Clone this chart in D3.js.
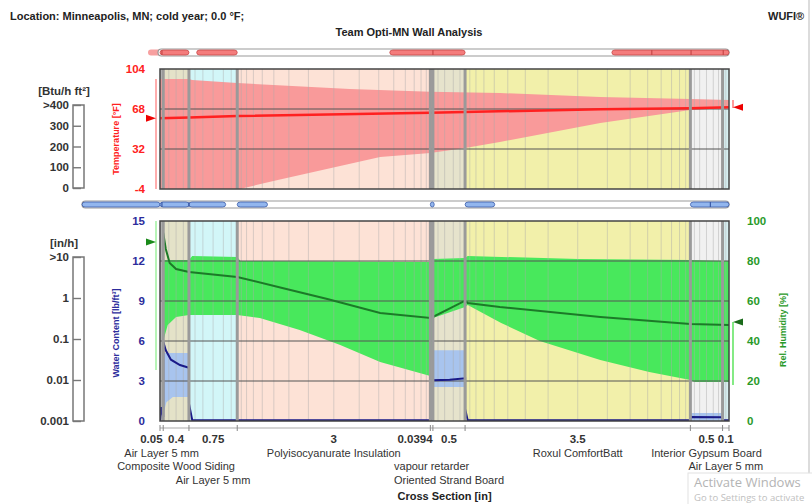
<!DOCTYPE html>
<html>
<head>
<meta charset="utf-8">
<script src="https://cdn.jsdelivr.net/npm/d3@7/dist/d3.min.js"></script>
<style>
	body{margin:0;background:#fff;}
	svg{font-family:"Liberation Sans",Arial,sans-serif;}
	.hdr{font-size:11px;font-weight:bold;fill:#222;}
	.tick-b{font-size:11.5px;font-weight:bold;}
	.lname{font-size:11px;fill:#333;}
	.unit{font-size:9px;font-weight:bold;}
</style>
</head>
<body>
<div id="chart"></div>
<script>

//layers of the wall, outside -> inside
const layerNames = ["Air Layer 5 mm","Composite Wood Siding","Air Layer 5 mm","Polyisocyanurate Insulation","vapour retarder","Oriented Strand Board","Roxul ComfortBatt","Interior Gypsum Board","Air Layer 5 mm"];
const layerThick = [0.05,0.4,0.75,3,0.0394,0.5,3.5,0.5,0.1];
const layerCells = [1,4,6,16,1,5,16,6,2];

//temperature [°F] : [position in, value]
const tempHi = [[0,95],[0.45,95],[0.5,94],[1.2,91.4],[2.95,86],[4.2,83.6],[5.28,82.4],[6.84,78.8],[8.24,77],[8.84,76]];
const tempLo = [[0,-12],[0.45,-10],[1.2,-4.5],[1.83,4.1],[3.42,24.8],[4.2,28.4],[4.74,32.9],[5.28,38.3],[6.84,55.4],[8.24,67.1],[8.84,69]];
const tempNow = [[0,59.6],[0.45,60.3],[1.2,61.7],[4.2,64.7],[6.84,67.7],[8.24,68.6],[8.84,69.5]];

//relative humidity [%]
const rhHi = [[0.05,80.5],[0.45,80.5],[0.5,82.5],[1.2,82],[1.25,80],[4.2,79.5],[4.24,81],[4.74,81.5],[4.78,82.5],[6.5,81],[8.24,80.5],[8.84,80]];
const rhLo = [[0.05,40],[0.12,48],[0.25,52],[0.45,53],[1.2,53],[1.55,51.5],[2.17,45.5],[2.8,38],[3.42,29.5],[4.2,22.5],[4.24,51.5],[4.74,57],[4.78,58],[5.3,49],[5.9,40],[6.84,30.5],[7.6,24.5],[8.24,20.5],[8.3,19.5],[8.84,19.5]];
const rhNow = [[0.05,94],[0.09,86],[0.15,79],[0.25,76],[0.45,74.5],[1.2,72],[1.9,66.5],[2.6,61],[3.42,54],[4.2,51.5],[4.22,55.5],[4.24,52],[4.74,60.2],[4.78,59],[5.28,57],[6.84,52],[8.24,48.5],[8.84,48]];

//water content [lb/ft3]
const wcNow = [[0,0],[0.02,1.05],[0.05,0.3],[0.05,5.95],[0.09,5.3],[0.17,4.6],[0.31,4.2],[0.45,4.0],[0.45,1.3],[0.5,0.08],[1.2,0.06],[4.2,0.05],[4.24,0.05],[4.24,3.05],[4.5,3.1],[4.74,3.2],[4.74,0.9],[4.78,0.06],[8.24,0.06],[8.24,0.3],[8.74,0.28],[8.74,0.05],[8.84,0.05]];
const wcHiSegs = [[[0.05,5.1],[0.45,5.1]],[[4.24,5.3],[4.74,5.3]],[[8.24,0.6],[8.74,0.6]]];
const wcLoSegs = [[[0.05,0.5],[0.1,1.4],[0.2,1.8],[0.45,1.8]],[[4.24,2.55],[4.74,2.55]],[[8.24,0],[8.74,0]]];

//surface indicators [min, max, current]
const rhSurfExt = [25.5,100,89.5];
const rhSurfInt = [18,49.5,49.5];

//flux bars (segments in inches)
const heatBar = [[0,0.45],[0.57,1.2],[3.57,4.74],[7.02,8.84]];
const heatBarMarks = [0.03,4.24,7.64,8.25,8.75];
const moistBar = [[-1.21,0],[0,0.45],[0.45,1.02],[1.2,1.67],[4.2,4.26],[4.74,5.2],[8.24,8.84]];
const moistBarMarks = [0.03,0.45,8.55];

//axis ticks
const tempTicks = [-4,32,68,104];
const wcTicks = [0,3,6,9,12,15];
const rhTicks = [0,20,40,60,80,100];
const fluxTicks = [0,100,200,300,400];
const fluxTickLabels = ["0","100","200","300",">400"];
const rainTicks = [0.001,0.01,0.1,1,10];
const rainTickLabels = ["0.001","0.01","0.1","1",">10"];


//styles
const layerFill = d3.scaleOrdinal().domain(d3.range(9))
	.range(["#b8b8b8","#e4e2c8","#d2f6f8","#fde2d6","#b0b0b0","#e6e3cc","#f2f0aa","#f1f1f1","#d6eef0"]);
const red = "#ff2020", navy = "#2c2c9c", green = "#2a9a2a";

//sizing
const plot = {left:160, right:729};
const topP = {top:69, bottom:189};
const botP = {top:221, bottom:421};

const svg = d3.select("#chart").append("svg")
	.attr("width",812)
	.attr("height",504);

const total = d3.sum(layerThick);
const ends = Array.from(d3.cumsum(layerThick));
const starts = [0].concat(ends.slice(0,-1));

const x = d3.scaleLinear().domain([0,total]).range([plot.left,plot.right]);
const yT = d3.scaleLinear().domain([-4,104]).range([topP.bottom,topP.top]);
const yW = d3.scaleLinear().domain([0,15]).range([botP.bottom,botP.top]);
const yRH = d3.scaleLinear().domain([0,100]).range([botP.bottom,botP.top]);

//header
svg.append("text").attr("class","hdr").attr("x",10).attr("y",20).text("Location: Minneapolis, MN; cold year; 0.0 °F;");
svg.append("text").attr("class","hdr").attr("x",409).attr("y",36).attr("text-anchor","middle").text("Team Opti-MN Wall Analysis");
svg.append("text").attr("class","hdr").attr("x",768).attr("y",20).text("WUFI®");
svg.append("line").attr("x1",809).attr("x2",809).attr("y1",0).attr("y2",474).attr("stroke","#dcdcdc").attr("stroke-width",2);

//clip paths
const defs = svg.append("defs");
[["clipTop",topP],["clipBot",botP]].forEach(([id,p])=>{
	defs.append("clipPath").attr("id",id).append("rect")
		.attr("x",plot.left).attr("y",p.top)
		.attr("width",plot.right-plot.left).attr("height",p.bottom-p.top);
});

//numeric grid of a layer
function cellEdges(i){
	const n = layerCells[i], r = 1.3;
	const sizes = d3.range(n).map(k=>Math.pow(r,Math.min(k,n-1-k)));
	const s = d3.sum(sizes);
	let acc = starts[i];
	const out = [];
	for(let k=0;k<n-1;k++){
		acc += sizes[k]/s*layerThick[i];
		out.push(acc);
	}
	return out;
}
const subLines = d3.range(layerThick.length).flatMap(cellEdges);

function panelBack(p, clip){
	const g = svg.append("g").attr("clip-path","url(#"+clip+")");
	g.selectAll("rect").data(layerThick).enter().append("rect")
		.attr("x",(d,i)=>x(starts[i]))
		.attr("width",(d,i)=>x(ends[i])-x(starts[i]))
		.attr("y",p.top).attr("height",p.bottom-p.top)
		.attr("fill",(d,i)=>layerFill(i));
	return g;
}
function panelFront(p, clip, ticks, yScale){
	const g = svg.append("g").attr("clip-path","url(#"+clip+")");
	g.selectAll(".sub").data(subLines).enter().append("line")
		.attr("x1",d=>x(d)).attr("x2",d=>x(d))
		.attr("y1",p.top).attr("y2",p.bottom)
		.attr("stroke","#aaa").attr("stroke-opacity",0.45);
	g.selectAll(".hg").data(ticks.slice(1,-1)).enter().append("line")
		.attr("x1",plot.left).attr("x2",plot.right)
		.attr("y1",d=>yScale(d)).attr("y2",d=>yScale(d))
		.attr("stroke","#555").attr("stroke-width",1.2);
	return g;
}
function panelBounds(p){
	svg.append("g").selectAll("line").data(ends.slice(0,-1)).enter().append("line")
		.attr("x1",d=>x(d)).attr("x2",d=>x(d))
		.attr("y1",p.top).attr("y2",p.bottom)
		.attr("stroke","#9a9a9a").attr("stroke-width",3);
	svg.append("rect")
		.attr("x",plot.left).attr("y",p.top)
		.attr("width",plot.right-plot.left).attr("height",p.bottom-p.top)
		.attr("fill","none").attr("stroke","#444").attr("stroke-width",1.5);
}

function band(hi, lo, yScale){
	const l = d3.line().x(d=>x(d[0])).y(d=>yScale(d[1]));
	return l(hi.concat(lo.slice().reverse())) + "Z";
}

//===== top panel: temperature
const gT = panelBack(topP,"clipTop");
gT.append("path").attr("d",band(tempHi,tempLo,yT)).attr("fill","#f99a9a");
const gT2 = panelFront(topP,"clipTop",tempTicks,yT);
gT2.append("path")
	.attr("d",d3.line().x(d=>x(d[0])).y(d=>yT(d[1]))(tempNow))
	.attr("fill","none").attr("stroke",red).attr("stroke-width",2.5);
panelBounds(topP);

//===== bottom panel: water content + RH
const gB = panelBack(botP,"clipBot");
gB.append("path").attr("d",band(rhHi,rhLo,yRH)).attr("fill","#48e85c");
wcHiSegs.forEach((seg,i)=>{
	gB.append("path").attr("d",band(seg,wcLoSegs[i],yW)).attr("fill","#a8c4ee");
});
const gB2 = panelFront(botP,"clipBot",wcTicks,yW);
gB2.append("path")
	.attr("d",d3.line().x(d=>x(d[0])).y(d=>yRH(d[1]))(rhNow))
	.attr("fill","none").attr("stroke","#1c7a28").attr("stroke-width",2);
gB2.append("path")
	.attr("d",d3.line().x(d=>x(d[0])).y(d=>yW(d[1]))(wcNow))
	.attr("fill","none").attr("stroke","#1a1a88").attr("stroke-width",2);
panelBounds(botP);

//===== panel axes
function valueAxis(ticks, scale, xPos, anchor, color){
	svg.append("g").selectAll("text").data(ticks).enter().append("text")
		.attr("class","tick-b")
		.attr("x",xPos).attr("y",d=>scale(d)).attr("dy","0.35em")
		.attr("text-anchor",anchor).attr("fill",color)
		.text(d=>d);
}
valueAxis(tempTicks,yT,145,"end",red);
valueAxis(wcTicks,yW,145,"end",navy);
valueAxis(rhTicks,yRH,747,"start",green);

function unitLabel(txt, xPos, yPos, color){
	svg.append("text").attr("class","unit")
		.attr("transform","translate("+xPos+","+yPos+") rotate(-90)")
		.attr("text-anchor","middle").attr("fill",color).text(txt);
}
unitLabel("Temperature [°F]",119,139,red);
unitLabel("Water Content [lb/ft³]",119,333,navy);
unitLabel("Rel. Humidity [%]",786,330,green);

//surface indicators
function indicator(xPos, yA, yB, yNow, dir, lineCol, triCol){
	svg.append("line").attr("x1",xPos).attr("x2",xPos)
		.attr("y1",yA).attr("y2",yB)
		.attr("stroke",lineCol).attr("stroke-width",1.2);
	const w = 10*dir;
	svg.append("path")
		.attr("d","M"+xPos+","+yNow+"L"+(xPos-w)+","+(yNow-3.5)+"L"+(xPos-w)+","+(yNow+3.5)+"Z")
		.attr("fill",triCol);
}
const clampT = v=>yT(Math.max(-4,Math.min(104,v)));
indicator(156, clampT(tempHi[0][1]), clampT(tempLo[0][1]), yT(tempNow[0][1]), 1, "#f77", "#e00");
indicator(733, clampT(tempHi[tempHi.length-1][1]), clampT(tempLo[tempLo.length-1][1]), yT(tempNow[tempNow.length-1][1]), -1, "#f55", "#e00");
indicator(156, yRH(rhSurfExt[1]), yRH(rhSurfExt[0]), yRH(rhSurfExt[2]), 1, "#8e8", "#1a8a1a");
indicator(733, yRH(rhSurfInt[1]), yRH(rhSurfInt[0]), yRH(rhSurfInt[2]), -1, "#3d3", "#1a6a1a");

//===== flux bars
function fluxBar(yc, xStart, segs, marks, fill, stroke){
	const h = 7;
	svg.append("rect").attr("x",xStart).attr("y",yc-h/2)
		.attr("width",plot.right-xStart).attr("height",h).attr("rx",3.5)
		.attr("fill","#fff").attr("stroke","#999").attr("stroke-width",1.2);
	svg.append("g").selectAll("rect").data(segs).enter().append("rect")
		.attr("x",d=>x(d[0])).attr("width",d=>Math.max(2,x(d[1])-x(d[0])))
		.attr("y",yc-h/2+1).attr("height",h-2).attr("rx",3)
		.attr("fill",fill).attr("stroke",stroke).attr("stroke-width",0.8);
	svg.append("g").selectAll("line").data(marks).enter().append("line")
		.attr("x1",d=>x(d)).attr("x2",d=>x(d))
		.attr("y1",yc-h/2+1).attr("y2",yc+h/2-1)
		.attr("stroke",stroke).attr("stroke-width",1.2);
}
svg.append("rect").attr("x",148).attr("y",49.5).attr("width",14).attr("height",6).attr("rx",3).attr("fill","#f7a0a0");
fluxBar(52.5, 158, heatBar, heatBarMarks, "#f47c7c", "#c84848");
fluxBar(204.5, 82, moistBar, moistBarMarks, "#92b6ee", "#3a5aa8");

//===== left auxiliary scales
function sideScale(scale, ticks, labels, unit, unitY){
	const r = scale.range();
	svg.append("rect").attr("x",73).attr("y",r[1])
		.attr("width",11).attr("height",r[0]-r[1])
		.attr("fill","#fff").attr("stroke","#777").attr("stroke-width",1.5);
	const g = svg.append("g").attr("transform","translate(73,0)")
		.call(d3.axisLeft(scale).tickValues(ticks).tickFormat((d,i)=>labels[i]).tickSize(-8).tickSizeOuter(0).tickPadding(4));
	g.select(".domain").remove();
	g.selectAll("line").attr("stroke","#777").attr("stroke-width",1.4);
	g.selectAll("text").attr("font-size","11.5px").attr("font-weight","bold").attr("fill","#333")
		.attr("font-family","Liberation Sans, Arial, sans-serif");
	svg.append("text").attr("class","tick-b").attr("x",64).attr("y",unitY)
		.attr("text-anchor","middle").attr("fill","#333").text(unit);
}
sideScale(d3.scaleLinear().domain([0,400]).range([188,105]), fluxTicks, fluxTickLabels, "[Btu/h ft²]", 95);
sideScale(d3.scaleLog().domain([0.001,10]).range([421,257]), rainTicks, rainTickLabels, "[in/h]", 247);

//===== cross-section axis
const axY = 428;
svg.append("line").attr("x1",plot.left).attr("x2",plot.right).attr("y1",axY).attr("y2",axY)
	.attr("stroke","#aaa").attr("stroke-width",1.2);
svg.append("g").selectAll("line").data([0].concat(ends)).enter().append("line")
	.attr("x1",d=>x(d)).attr("x2",d=>x(d)).attr("y1",axY-3).attr("y2",axY+3)
	.attr("stroke","#888");

svg.append("g").selectAll("text").data(layerThick).enter().append("text")
	.attr("class","tick-b").attr("fill","#333")
	.attr("x",(d,i)=>{
		const c = x(starts[i]+d/2);
		return (x(ends[i])-x(starts[i]))<4 ? c+1 : c;
	})
	.attr("y",443)
	.attr("text-anchor",(d,i)=>(x(ends[i])-x(starts[i]))<4 ? "end" : "middle")
	.text(d=>d);

//windows activation overlay (sits under the labels)
svg.append("rect").attr("x",688).attr("y",473).attr("width",130).attr("height",36)
	.attr("fill","#fff").attr("fill-opacity",0.85).attr("stroke","#e2e2e2");
svg.append("text").attr("x",694).attr("y",487).attr("font-size","13px").attr("fill","#b4b4b4")
	.attr("font-family","Open Sans, sans-serif").text("Activate Windows");
svg.append("text").attr("x",694).attr("y",501).attr("font-size","9.5px").attr("fill","#c0c0c0")
	.attr("font-family","Open Sans, sans-serif").text("Go to Settings to activate");

//layer names staggered in rows so they do not overlap
const rowY = [457,470,484];
const rowEnd = [-Infinity,-Infinity,-Infinity];
layerNames.forEach((name,i)=>{
	const cx = x(starts[i]+layerThick[i]/2);
	const t = svg.append("text").attr("class","lname")
		.attr("x",cx).attr("text-anchor","middle").text(name);
	const w = t.node().getComputedTextLength();
	let r = rowEnd.findIndex(e=>e < cx-w/2-2);
	if(r<0) r = rowY.length-1;
	rowEnd[r] = cx+w/2;
	t.attr("y",rowY[r]);
});
svg.append("text").attr("class","hdr").attr("x",(plot.left+plot.right)/2).attr("y",500)
	.attr("text-anchor","middle").text("Cross Section [in]");

</script>
</body>
</html>
